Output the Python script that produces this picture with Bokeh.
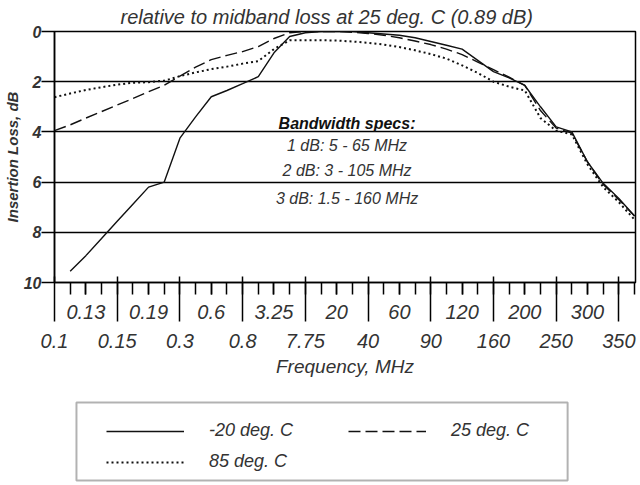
from bokeh.plotting import figure
from bokeh.layouts import column
from bokeh.models import (Range1d, FixedTicker, LinearAxis, Legend, LegendItem,
                          Label, BoxAnnotation)
from bokeh.embed import file_html
from bokeh.resources import INLINE

# ---- data -----------------------------------------------------------------
freq_labels = ["0.1", "0.13", "0.15", "0.19", "0.3", "0.6", "0.8", "3.25", "7.75",
               "20", "40", "60", "90", "120", "160", "200", "250", "300", "350"]
# positions on the category axis (half steps between labelled frequencies)
pos = [k * 0.5 for k in range(38)]
nan = float("nan")
loss_m20 = [nan, 9.55, 8.93, 8.25, 7.56, 6.88, 6.2, 6.0, 4.25, 3.4,
            2.6, 2.35, 2.08, 1.8, 0.85, 0.2, 0.05, 0.0, 0.0, 0.0,
            0.05, 0.1, 0.15, 0.25, 0.4, 0.55, 0.7, 1.15, 1.6, 1.85,
            2.15, 3.0, 3.8, 4.0, 5.2, 6.05, 6.65, 7.35]
loss_25 = [3.95, 3.72, 3.45, 3.19, 2.93, 2.67, 2.4, 2.14, 1.78, 1.42,
           1.12, 0.95, 0.8, 0.6, 0.28, 0.05, 0.0, 0.0, 0.0, 0.03,
           0.08, 0.15, 0.25, 0.38, 0.52, 0.7, 0.92, 1.22, 1.52, 1.82,
           2.15, 3.15, 3.85, 4.05, 5.2, 6.1, 6.7, 7.35]
loss_85 = [2.62, 2.47, 2.33, 2.22, 2.12, 2.04, 2.02, 1.96, 1.78, 1.63,
           1.5, 1.4, 1.28, 1.18, 0.7, 0.35, 0.35, 0.35, 0.36, 0.4,
           0.45, 0.52, 0.62, 0.75, 0.9, 1.08, 1.35, 1.65, 2.0, 2.2,
           2.35, 3.45, 3.95, 4.1, 5.3, 6.2, 6.8, 7.5]
y_ticks = [0, 2, 4, 6, 8, 10]
series_names = ["-20 deg. C", "25 deg. C", "85 deg. C"]
title_text = "relative to midband loss at 25 deg. C (0.89 dB)"
y_title = "Insertion Loss, dB"
spec_lines = ["Bandwidth specs:", "1 dB: 5 - 65 MHz", "2 dB: 3 - 105 MHz", "3 dB: 1.5 - 160 MHz"]
spec_y = [3.68, 4.56, 5.52, 6.64]
spec_x = 9.33

FONT = "Liberation Sans"
TXT = "#333333"
LINE = "#111111"
styles = [dict(line_width=1.4), dict(line_width=1.4, line_dash="12 5"),
          dict(line_width=2, line_dash="2 3")]

p = figure(width=640, height=379, output_backend="svg", toolbar_location=None,
           x_range=Range1d(0, 18.53), y_range=Range1d(10, 0),
           min_border_left=53, min_border_right=5, min_border_top=25,
           min_border_bottom=0, background_fill_color="white",
           border_fill_color="white")

p.outline_line_color = "black"
p.outline_line_width = 1.5

# ---- title ----
p.title.text = title_text
p.title.text_font = FONT
p.title.text_font_style = "italic"
p.title.text_font_size = "20px"
p.title.text_color = TXT
p.title.align = "left"
p.title.offset = 66
p.title.standoff = 7

# ---- y axis ----
ya = p.yaxis[0]
ya.ticker = FixedTicker(ticks=y_ticks, minor_ticks=[])
ya.major_tick_out = 13
ya.major_tick_in = 0
ya.major_tick_line_width = 1.5
ya.major_tick_line_color = "black"
ya.axis_line_width = 1.5
ya.axis_line_color = "black"
ya.major_label_standoff = 0
ya.major_label_text_font = FONT
ya.major_label_text_font_style = "bold italic"
ya.major_label_text_font_size = "16px"
ya.major_label_text_color = TXT
ya.axis_label = y_title
ya.axis_label_text_font = FONT
ya.axis_label_text_font_style = "bold italic"
ya.axis_label_text_font_size = "15px"
ya.axis_label_text_color = TXT
ya.axis_label_standoff = 0

p.ygrid.ticker = FixedTicker(ticks=y_ticks)
p.ygrid.grid_line_color = "black"
p.ygrid.grid_line_width = 1.5
p.xgrid.visible = False

# ---- x axis A (upper label row, short ticks) ----
odd_pos = list(range(1, len(freq_labels), 2))
even_pos = list(range(0, len(freq_labels), 2))
xa = p.xaxis[0]
xa.ticker = FixedTicker(ticks=odd_pos, minor_ticks=pos[1:])
xa.major_label_overrides = {i: freq_labels[i] for i in odd_pos}
xa.major_tick_out = 12
xa.major_tick_in = 0
xa.minor_tick_out = 12
xa.minor_tick_in = 0
xa.major_tick_line_width = 1.5
xa.minor_tick_line_width = 1.5
xa.major_tick_line_color = "black"
xa.minor_tick_line_color = "black"
xa.axis_line_color = "black"
xa.axis_line_width = 1.5
xa.major_label_standoff = 10
xa.major_label_text_font = FONT
xa.major_label_text_font_style = "italic"
xa.major_label_text_font_size = "20px"
xa.major_label_text_color = TXT

# ---- x axis B (lower label row, long ticks) ----
xb = LinearAxis(ticker=FixedTicker(ticks=even_pos, minor_ticks=[]))
xb.major_label_overrides = {i: freq_labels[i] for i in even_pos}
xb.major_tick_in = 45
xb.major_tick_out = 0
xb.major_tick_line_width = 1.5
xb.major_tick_line_color = "black"
xb.minor_tick_line_color = None
xb.axis_line_color = None
xb.major_label_standoff = 12
xb.major_label_text_font = FONT
xb.major_label_text_font_style = "italic"
xb.major_label_text_font_size = "20px"
xb.major_label_text_color = TXT
xb.axis_label = "Frequency, MHz"
xb.axis_label_text_font = FONT
xb.axis_label_text_font_style = "italic"
xb.axis_label_text_font_size = "19px"
xb.axis_label_text_color = TXT
xb.axis_label_standoff = 5
p.add_layout(xb, "below")

# ---- curves ----
r1 = p.line(pos, loss_m20, line_color=LINE, **styles[0])
r2 = p.line(pos, loss_25, line_color=LINE, **styles[1])
r3 = p.line(pos, loss_85, line_color=LINE, **styles[2])

# ---- spec text ----
for k, (t, yv) in enumerate(zip(spec_lines, spec_y)):
    p.add_layout(Label(x=spec_x, y=yv, text=t, text_align="center",
                       text_baseline="middle", text_font=FONT,
                       text_font_style="bold italic" if k == 0 else "italic",
                       text_font_size="16px", text_color="#111111" if k == 0 else TXT))

# ---- legend (separate strip below the chart) ----
lg = figure(width=640, height=106, output_backend="svg", toolbar_location=None,
            x_range=Range1d(0, 582), y_range=Range1d(0, 106),
            min_border_left=53, min_border_right=5, min_border_top=0,
            min_border_bottom=0, x_axis_location=None, y_axis_location=None,
            background_fill_color="white", border_fill_color="white")
lg.outline_line_color = None
lg.grid.visible = False
lr = [lg.line([nan], [nan], line_color=LINE, **s) for s in styles]
lg.add_layout(BoxAnnotation(left=22, right=514, bottom=5, top=83,
                            fill_color=None, fill_alpha=0,
                            line_color="black", line_width=2))
legend = Legend(items=[LegendItem(label=n, renderers=[r]) for n, r in zip(series_names, lr)],
                orientation="horizontal", ncols=2, location=(52, 13))
legend.label_text_font = FONT
legend.label_text_font_style = "italic"
legend.label_text_font_size = "18px"
legend.label_text_color = TXT
legend.glyph_width = 78
legend.glyph_height = 20
legend.label_height = 20
legend.label_width = 129
legend.label_standoff = 25
legend.spacing = 10
legend.padding = 15
legend.margin = 0
legend.border_line_color = None
legend.background_fill_alpha = 0
lg.add_layout(legend)

open("out.html", "w").write(file_html(column(p, lg), INLINE))
